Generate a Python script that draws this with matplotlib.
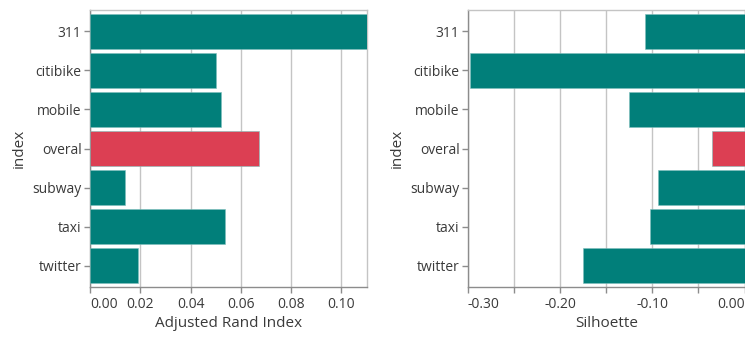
import matplotlib.pyplot as plt
from matplotlib.ticker import MultipleLocator, FuncFormatter

plt.rcParams['font.family'] = ['Open Sans', 'DejaVu Sans']

# clustering scores per data source
sources = ["311", "citibike", "mobile", "overal", "subway", "taxi", "twitter"]
ari = [0.1102, 0.0500, 0.0523, 0.0674, 0.0141, 0.0539, 0.0189]
silhouette = [-0.1083, -0.298, -0.125, -0.0349, -0.0938, -0.1028, -0.1748]

TEAL = "#017f7a"
RED = "#dc3f53"
GRID = "#c4c4c4"
AXIS = "#8c8c8c"
TEXT = "#3a3a3a"


def bar_panel(ax, values, xlim, major, minor, label):
    colors = [RED if s == "overal" else TEAL for s in sources]
    pos = list(range(len(sources)))
    ax.barh(pos, values, height=0.875, color=colors, edgecolor="#7fbfbc",
            linewidth=0.4, zorder=3)
    ax.set_ylim(len(sources) - 0.5 + 0.05, -0.5 - 0.05)
    ax.set_xlim(*xlim)
    ax.set_yticks(pos)
    ax.set_yticklabels(sources)
    ax.xaxis.set_major_locator(MultipleLocator(major))
    ax.xaxis.set_minor_locator(MultipleLocator(minor))
    ax.xaxis.set_major_formatter(FuncFormatter(lambda v, p: f"{v:.2f}"))
    ax.grid(axis="x", which="both", color=GRID, linewidth=1.0, zorder=0)
    for sp in ax.spines.values():
        sp.set_color(GRID)
        sp.set_linewidth(1.0)
    ax.spines["left"].set_color(AXIS)
    ax.spines["bottom"].set_color(AXIS)
    ax.tick_params(axis="both", which="both", color=AXIS, labelcolor=TEXT,
                   labelsize=10, length=4, width=1)
    ax.tick_params(axis="x", which="major", pad=3)
    ax.tick_params(axis="y", pad=2)
    ax.set_xlabel(label, fontsize=11, color=TEXT, labelpad=3)
    ax.set_ylabel("index", fontsize=11, color=TEXT, labelpad=4)


def flush_ends(ax):
    # keep the outermost tick labels inside the plot's extent
    lo, hi = ax.get_xlim()
    for tick in ax.xaxis.get_major_ticks():
        v = tick.get_loc()
        if abs(v - lo) < 1e-9:
            tick.label1.set_horizontalalignment("left")
        elif abs(v - hi) < 1e-9:
            tick.label1.set_horizontalalignment("right")


fig = plt.figure(figsize=(7.45, 3.37), dpi=100)

ax1 = fig.add_axes([90 / 745, 1 - 287 / 337, 277 / 745, 277 / 337])
bar_panel(ax1, ari, (0, 0.1102), 0.02, 0.02, "Adjusted Rand Index")

ax2 = fig.add_axes([468 / 745, 1 - 287 / 337, 276.5 / 745, 277 / 337])
bar_panel(ax2, silhouette, (-0.30, 0.0), 0.10, 0.05, "Silhoette")

fig.canvas.draw()
flush_ends(ax1)
flush_ends(ax2)

fig.savefig("out.png", dpi=100)
